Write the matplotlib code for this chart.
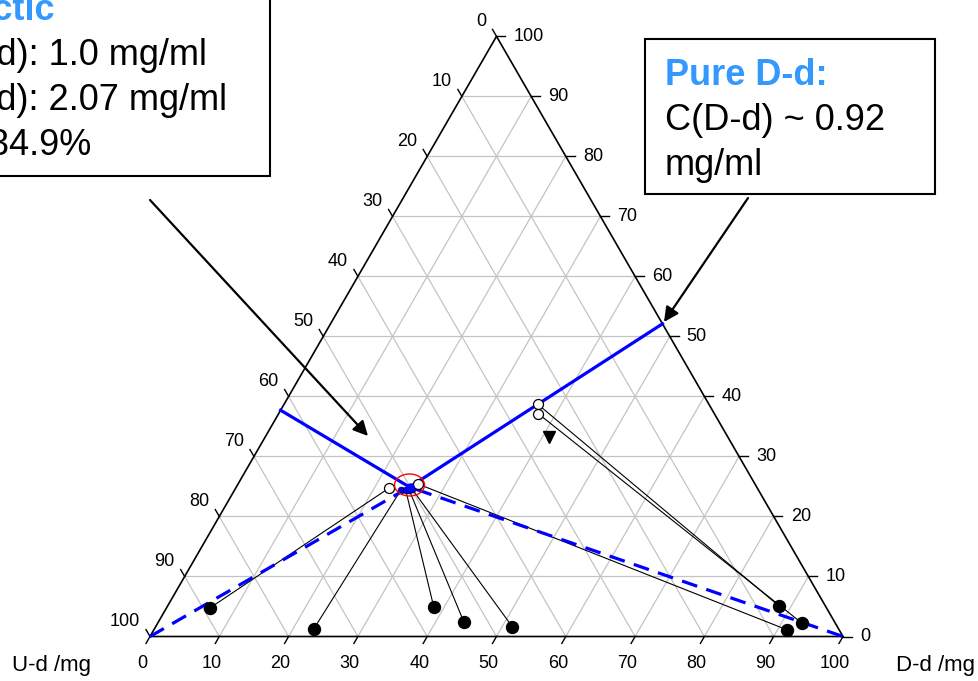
import numpy as np
import matplotlib
matplotlib.use("Agg")
import matplotlib.pyplot as plt
from matplotlib.patches import Rectangle, Ellipse

plt.rcParams['font.family'] = ['Liberation Sans', 'DejaVu Sans']

# Ternary compositions: a = D-d share (bottom axis), c = third component (right axis)
solid_a = [6.3, 23.0, 38.5, 44.1, 51.5, 88.2, 93.0, 91.4]
solid_c = [4.8, 1.2, 4.9, 2.4, 1.6, 5.1, 2.2, 1.1]

liquid_a = [22.1, 24.0, 24.7, 25.2, 25.5, 36.6, 37.5, 26.0]
liquid_c = [24.7, 24.4, 24.4, 24.4, 24.6, 38.7, 37.1, 25.4]
liquid_open = [True, False, False, False, False, True, True, True]

extra_a = [41.0]
extra_c = [33.2]

eutectic_a, eutectic_c = 25.0, 24.9
# Solubility curve end points on the binary edges
sat_left_a, sat_left_c = 0.0, 37.7
sat_right_a, sat_right_c = 47.9, 52.1

bottom_ticks = list(range(0, 101, 10))
left_ticks = list(range(0, 101, 10))
right_ticks = list(range(0, 101, 10))

S3 = np.sqrt(3) / 2


def tern(a, c):
    a = np.asarray(a, dtype=float)
    c = np.asarray(c, dtype=float)
    return a + c / 2, c * S3


W, H = 979, 681
fig = plt.figure(figsize=(W / 100, H / 100), dpi=100)
ax = fig.add_axes([0, 0, 1, 1])
scale = 6.93  # pixels per unit
x0, y0 = 150, 636.5
ax.set_xlim(-x0 / scale, (W - x0) / scale)
ax.set_ylim((y0 - H) / scale, y0 / scale)
ax.axis('off')

# grid
grid_kw = dict(color='#c4c4c4', lw=0.9, zorder=1)
for k in range(10, 100, 10):
    ax.plot(*tern([0, 100 - k], [k, k]), **grid_kw)
    ax.plot(*tern([k, k], [0, 100 - k]), **grid_kw)
    ax.plot(*tern([100 - k, 0], [0, 100 - k]), **grid_kw)

# outline
ax.plot(*tern([0, 100, 0, 0], [0, 0, 100, 0]), color='black', lw=1.2, zorder=2)

tl = 8 / scale
fs_tick = 13
for k in bottom_ticks:
    x, y = tern(k, 0)
    ax.plot([x, x - 0.5 * tl], [y, y - S3 * tl], color='black', lw=1.0)
    ax.text(x - 8 / scale, y - 27 / scale, str(k), ha='center', va='center', fontsize=fs_tick)
for k in left_ticks:
    x, y = tern(0, 100 - k)
    ax.plot([x, x - 0.5 * tl], [y, y + S3 * tl], color='black', lw=1.0)
    ax.text(x - 10 / scale, y + 15 / scale, str(k), ha='right', va='center', fontsize=fs_tick)
for k in right_ticks:
    x, y = tern(100 - k, k)
    ax.plot([x, x + tl * 1.1], [y, y], color='black', lw=1.0)
    ax.text(x + 17 / scale, y, str(k), ha='left', va='center', fontsize=fs_tick)

# axis names
ax.text((52 - x0) / scale, (y0 - 666) / scale, 'U-d /mg', ha='center', va='center', fontsize=16)
ax.text((936 - x0) / scale, (y0 - 666) / scale, 'D-d /mg', ha='center', va='center', fontsize=16)

blue = '#0000ff'
# three-phase region boundaries
ax.plot(*tern([0, eutectic_a, 100], [0, eutectic_c, 0]), color=blue, lw=2.3,
        ls=(0, (5, 3)), zorder=4)
# solubility curves
ax.plot(*tern([sat_left_a, eutectic_a, sat_right_a], [sat_left_c, eutectic_c, sat_right_c]),
        color=blue, lw=2.3, zorder=4)

# tie lines
for sa, sc, la, lc in zip(solid_a, solid_c, liquid_a, liquid_c):
    ax.plot(*tern([sa, la], [sc, lc]), color='black', lw=0.8, zorder=3)

ax.plot(*tern(solid_a, solid_c), 'o', color='black', ms=8.6, zorder=6)
for la, lc, op in zip(liquid_a, liquid_c, liquid_open):
    x, y = tern(la, lc)
    if op:
        ax.plot(x, y, 'o', mfc='white', mec='black', mew=0.9, ms=7.2, zorder=6)
    else:
        ax.plot(x, y, 'o', color=blue, mec='black', mew=0.4, ms=5, zorder=6)
ax.plot(*tern(extra_a, extra_c), 'v', color='black', ms=8.5, zorder=6)

ex, ey = tern(eutectic_a, eutectic_c)
ax.plot(ex, ey, 'o', color=blue, ms=5, zorder=7)
ax.add_patch(Ellipse((ex, ey + 0.3), 30 / scale, 22 / scale, fill=False, ec='red', lw=1.0, zorder=7))


# annotation boxes (figure pixel layout)
def fp(xp, yp):
    return xp / W, 1 - yp / H


ft = fig.transFigure
fig.patches.append(Rectangle(fp(-10, 176), 280 / W, 186 / H, transform=ft, fill=False,
                             ec='black', lw=1.5, zorder=10))
fig.patches.append(Rectangle(fp(645, 194), 290 / W, 155 / H, transform=ft, fill=False,
                             ec='black', lw=1.5, zorder=10))

lb = '#3399ff'
fs_box = 26
fig.text(*fp(55, 20), 'Eutectic', color=lb, fontweight='bold', fontsize=fs_box, ha='right', va='baseline')
fig.text(*fp(207, 65), 'C(D-d): 1.0 mg/ml', fontsize=fs_box, ha='right', va='baseline')
fig.text(*fp(227, 110), 'C(U-d): 2.07 mg/ml', fontsize=fs_box, ha='right', va='baseline')
fig.text(*fp(91, 155), 'ee: 34.9%', fontsize=fs_box, ha='right', va='baseline')

fig.text(*fp(665, 85), 'Pure D-d:', color=lb, fontweight='bold', fontsize=fs_box, ha='left', va='baseline')
fig.text(*fp(665, 130), 'C(D-d) ~ 0.92', fontsize=fs_box, ha='left', va='baseline')
fig.text(*fp(665, 175), 'mg/ml', fontsize=fs_box, ha='left', va='baseline')

arrow_kw = dict(arrowstyle='-|>', mutation_scale=22, lw=1.6, color='black', shrinkA=0, shrinkB=0)
ax.annotate('', xy=((368 - x0) / scale, (y0 - 436) / scale), xytext=((150 - x0) / scale, (y0 - 200) / scale),
            arrowprops=arrow_kw)
ax.annotate('', xy=((664 - x0) / scale, (y0 - 322) / scale), xytext=((748 - x0) / scale, (y0 - 198) / scale),
            arrowprops=arrow_kw)

fig.savefig('out.png', dpi=100)
